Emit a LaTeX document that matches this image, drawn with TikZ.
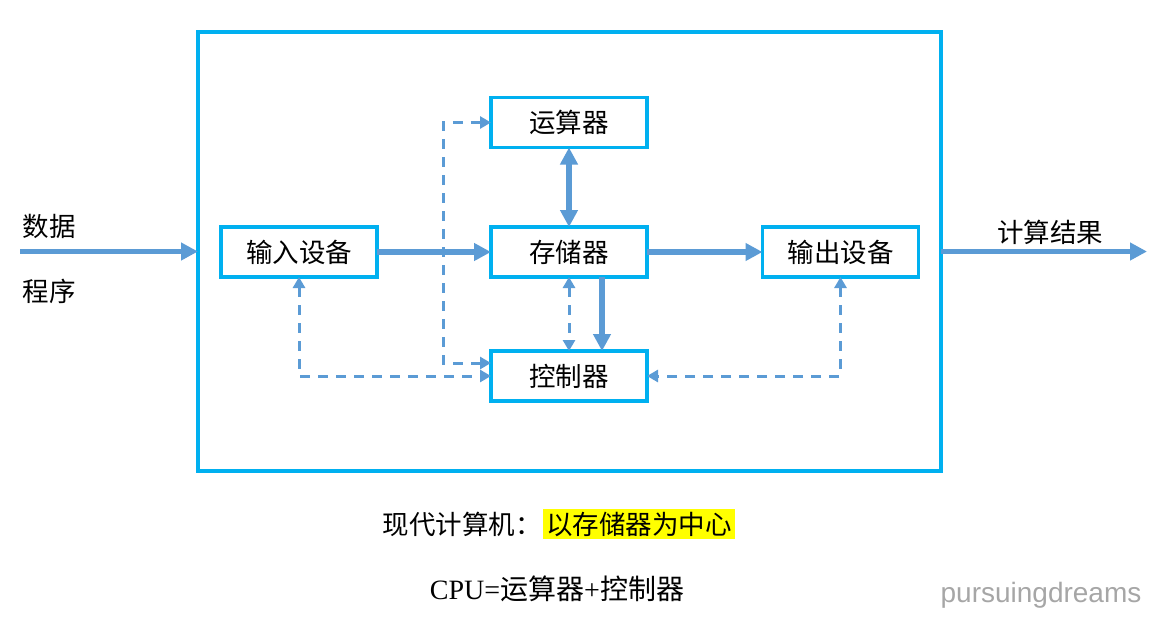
\documentclass[tikz,border=0pt]{standalone}
\usepackage{fontspec}
\setmainfont{Liberation Serif}
\newfontfamily\cjk{Noto Sans CJK SC}
\newfontfamily\wmfont{Liberation Sans}
\usetikzlibrary{arrows.meta}
\definecolor{boxcyan}{HTML}{00B0F0}
\definecolor{arrblue}{HTML}{5B9BD5}
\definecolor{hlyellow}{HTML}{FFFF00}
\tikzset{
  unitbox/.style={draw=boxcyan, line width=3.2pt, minimum width=156pt, minimum height=50pt, inner sep=0pt, outer sep=0pt, font=\fontsize{26.5}{28}\selectfont\cjk},
  bigarrow/.style={draw=arrblue, line width=5.5pt, -{Triangle[length=17pt,width=17pt]}},
  bigdouble/.style={draw=arrblue, line width=5.5pt, {Triangle[length=17pt,width=17pt]}-{Triangle[length=17pt,width=17pt]}},
  dasharrow/.style={draw=arrblue, line width=3pt, dash pattern=on 10pt off 8pt, {Triangle[length=11pt,width=12pt]}-{Triangle[length=11pt,width=12pt]}},
  lbl/.style={font=\fontsize{26.5}{28}\selectfont\cjk, inner sep=0pt}
}
\begin{document}
\begin{tikzpicture}[x=1pt,y=-1pt]
\useasboundingbox (0,0) rectangle (1159,619);
% outer frame
\node[draw=boxcyan, line width=3.2pt, minimum width=743pt, minimum height=439pt, inner sep=0pt, outer sep=0pt] (frame) at (569.5,251.5) {};
% units
\node[unitbox] (alu) at (569,122.5) {运算器};
\node[unitbox] (inp) at (299,252) {输入设备};
\node[unitbox] (mem) at (569,252) {存储器};
\node[unitbox] (outp) at (840.5,252) {输出设备};
\node[unitbox] (ctl) at (569,376) {控制器};
% outside arrows
\coordinate (src) at (20,251.5);
\coordinate (dst) at (1147,251.5);
\draw[bigarrow] (src) -- (frame.west);
\draw[bigarrow] (frame.east) -- (dst);
\node[lbl] (lblA) at (49,226) {数据};
\node[lbl] (lblB) at (49,291) {程序};
\node[lbl] (lblC) at (1050,232) {计算结果};
% solid internal arrows
\draw[bigarrow] (inp.east) -- (mem.west);
\draw[bigarrow] (mem.east) -- (outp.west);
\draw[bigdouble] (mem.north) -- (alu.south);
\draw[bigarrow] ([xshift=33pt]mem.south) -- ([xshift=33pt]ctl.north);
% dashed control arrows
\draw[dasharrow] (mem.south) -- (ctl.north);
\draw[dasharrow] ([yshift=13pt]ctl.west) -- ++(-48,0) |- (alu.west);
\draw[dasharrow] (inp.south) |- (ctl.west);
\draw[dasharrow] (outp.south) |- (ctl.east);
% captions
\node[font=\fontsize{26.5}{28}\selectfont\cjk, inner sep=0pt, anchor=east] (capA) at (542,524) {现代计算机：};
\node[font=\fontsize{26.5}{28}\selectfont\cjk, fill=hlyellow, inner xsep=3pt, inner ysep=0pt, minimum height=30pt, anchor=west] (capB) at (543,524) {以存储器为中心};
\node[font=\fontsize{28}{30}\selectfont, inner sep=0pt] (capC) at (557,589) {CPU={\cjk 运算器}+{\cjk 控制器}};
\node[font=\fontsize{28}{30}\selectfont\wmfont, text=black!35, inner sep=0pt] (wm) at (1041,595) {pursuingdreams};
\end{tikzpicture}
\end{document}
